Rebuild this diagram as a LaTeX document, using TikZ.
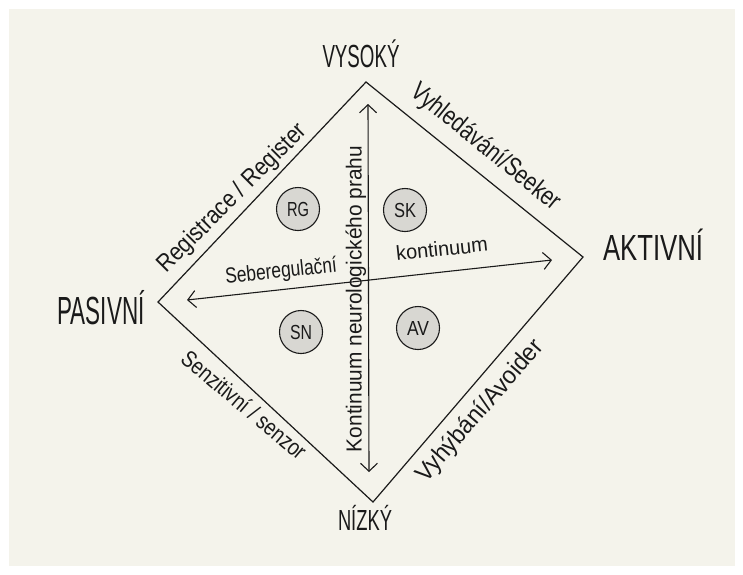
\documentclass[tikz,border=0pt]{standalone}
\usepackage{fontspec}
\setmainfont{Liberation Sans}
\usetikzlibrary{arrows.meta}
\definecolor{paper}{HTML}{F4F3EB}
\definecolor{disccol}{HTML}{D8D7D2}
\definecolor{ink}{HTML}{1A1A1A}
\newcommand\fitx[3]{\resizebox{#1pt}{#2pt}{\smash{#3}\vphantom{X}}}
\begin{document}
\begin{tikzpicture}[x=1pt,y=-1pt,
  edge/.style={line width=1.2pt, draw=ink, line join=miter},
  axis/.style={line width=1.1pt, draw=ink, {Straight Barb[length=8pt,width=17pt]}-{Straight Barb[length=8pt,width=17pt]}},
  lab/.style={inner sep=0pt, text=ink, font=\fontsize{20}{24}\selectfont},
  disc/.style={circle, draw=ink, line width=1.1pt, fill=disccol, minimum size=43pt, inner sep=0pt, text=ink, font=\fontsize{20}{24}\selectfont}]
\fill[white] (0,0) rectangle (743,574);
\fill[paper] (9,9) rectangle (735,566);
\useasboundingbox (0,0) rectangle (743,574);
% diamond
\coordinate (T) at (366,82);
\coordinate (R) at (583,257);
\coordinate (B) at (373,502);
\coordinate (L) at (158,302);
\draw[edge] (T)--(R)--(B)--(L)--cycle;
% axes
\coordinate (vt) at (368,104);
\coordinate (vb) at (369,472);
\coordinate (hl) at (187,300);
\coordinate (hr) at (552,260);
\draw[axis] (vb)--(vt);
\draw[axis] (hl)--(hr);
% corner labels
\node[lab, anchor=base] (vys) at (361,67) {\fitx{77}{22}{VYSOKÝ}};
\node[lab, anchor=base] (akt) at (653,260) {\fitx{100}{25}{AKTIVNÍ}};
\node[lab, anchor=base] (pas) at (101,324) {\fitx{87}{27}{PASIVNÍ}};
\node[lab, anchor=base] (niz) at (365,530) {\fitx{54}{20}{NÍZKÝ}};
% edge labels
\node[lab, rotate=45] (reg) at (231,197) {\fitx{200}{17}{Registrace / Register}};
\node[lab, rotate=-39] (see) at (487,146) {\fitx{185}{18}{Vyhledávání/Seeker}};
\node[lab, rotate=-40] (sen) at (244,405) {\fitx{155}{16}{Senzitivní / senzor}};
\node[lab, rotate=49] (avo) at (479,410) {\fitx{180}{17}{Vyhýbání/Avoider}};
% axis labels
\node[lab, rotate=6] (seb) at (281,270) {\fitx{112}{15}{Seberegulační}};
\node[lab, rotate=6] (kon) at (442,249) {\fitx{92}{14}{kontinuum}};
\node[lab, rotate=90] (neu) at (354,299) {\fitx{306}{15}{Kontinuum neurologického prahu}};
% quadrant discs
\node[disc] (rg) at (298,209) {\fitx{22}{14}{RG}};
\node[disc] (sk) at (405,210) {\fitx{22}{14}{SK}};
\node[disc] (sn) at (301,332) {\fitx{22}{14}{SN}};
\node[disc] (av) at (418,328) {\fitx{22}{14}{AV}};
\end{tikzpicture}
\end{document}
